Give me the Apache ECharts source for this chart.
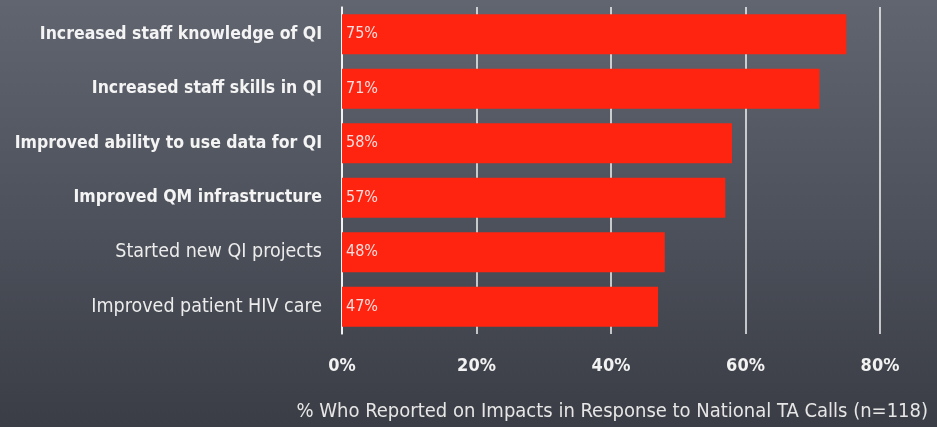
<!DOCTYPE html>
<html>
<head>
<meta charset="utf-8">
<script src="https://cdn.jsdelivr.net/npm/echarts@6/dist/echarts.min.js"></script>
<style>
  html, body { margin: 0; padding: 0; }
  #chart { width: 937px; height: 427px; }
</style>
</head>
<body>
<div id="chart"></div>
<script>
// data
var categories = [
  "Increased staff knowledge of QI",
  "Increased staff skills in QI",
  "Improved ability to use data for QI",
  "Improved QM infrastructure",
  "Started new QI projects",
  "Improved patient HIV care"
];
var values = [75, 71, 58, 57, 48, 47];
var boldRows = 4; // first four labels are heavier
var axisTitle = "% Who Reported on Impacts in Response to National TA Calls (n=118)";

var chart = echarts.init(document.getElementById("chart"));
var font = "'DejaVu Sans Condensed', 'DejaVu Sans', sans-serif";

var option = {
  animation: false,
  backgroundColor: {
    type: "linear", x: 0, y: 0, x2: 0, y2: 1,
    colorStops: [
      { offset: 0, color: "#61656f" },
      { offset: 0.55, color: "#4c505a" },
      { offset: 1, color: "#3a3d45" }
    ]
  },
  title: {
    text: axisTitle,
    right: 4,
    top: 397,
    textStyle: { color: "#e6e6e6", fontFamily: font, fontSize: 20, fontWeight: "normal" }
  },
  grid: { left: 342, right: 57, top: 7, height: 327, containLabel: false },
  xAxis: {
    type: "value",
    min: 0,
    max: 80,
    interval: 20,
    axisLine: { show: false },
    axisTick: { show: false },
    axisLabel: {
      margin: 23,
      color: "#f2f2f2",
      fontFamily: font,
      fontSize: 18,
      fontWeight: "bold",
      formatter: function (v) { return v + "%"; }
    },
    splitLine: { lineStyle: { color: "rgba(255,255,255,0.92)", width: 1.5 } }
  },
  yAxis: {
    type: "category",
    inverse: true,
    data: categories,
    axisLine: { show: true, lineStyle: { color: "#ffffff", width: 1.5 } },
    axisTick: { show: false },
    axisLabel: {
      margin: 20,
      formatter: function (v, i) {
        return (i < boldRows ? "{b|" : "{n|") + v + "}";
      },
      rich: {
        b: { color: "#f4f4f4", fontFamily: font, fontSize: 17.5, fontWeight: "bold" },
        n: { color: "#ececec", fontFamily: font, fontSize: 19.5, fontWeight: "normal" }
      }
    }
  },
  series: [{
    type: "bar",
    data: values,
    barCategoryGap: "27%",
    itemStyle: { color: "#ff2410" },
    label: {
      show: true,
      position: "insideLeft",
      offset: [-1, 0],
      color: "#f6dede",
      fontFamily: font,
      fontSize: 16,
      formatter: "{c}%"
    }
  }]
};

chart.setOption(option);
</script>
</body>
</html>
